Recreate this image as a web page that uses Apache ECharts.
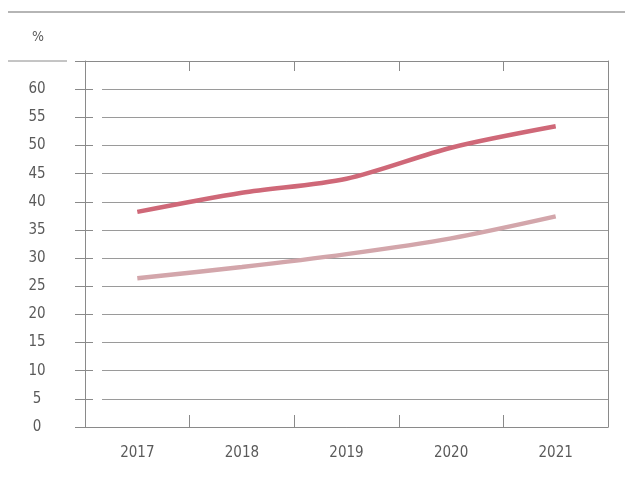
<!DOCTYPE html>
<html>
<head>
<meta charset="utf-8">
<style>
  html, body { margin: 0; padding: 0; background: #fff; }
  #chart { width: 625px; height: 498px; }
</style>
<script src="https://cdn.jsdelivr.net/npm/echarts@6/dist/echarts.min.js"></script>
</head>
<body>
<div id="chart"></div>
<script>
// Share (%) by year
const years = ['2017', '2018', '2019', '2020', '2021'];
const seriesUpper = [38.2, 41.6, 44.1, 49.6, 53.4];
const seriesLower = [26.4, 28.4, 30.7, 33.5, 37.4];
const yMax = 65;
const yStep = 5;

const FONT = '"Liberation Sans Narrow", "DejaVu Sans Condensed", sans-serif';
const LABEL_COLOR = '#5a5a5a';
const LINE_COLOR = '#8a8a8a';

const chart = echarts.init(document.getElementById('chart'), null, { renderer: 'canvas' });

chart.setOption({
  animation: false,
  backgroundColor: '#fff',
  grid: [
    { left: 85, right: 17, top: 61, bottom: 71 },
    // gridlines start a little right of the y axis
    { left: 102, right: 17, top: 61, bottom: 71 }
  ],
  graphic: [
    { type: 'line', shape: { x1: 8, y1: 12, x2: 625, y2: 12 }, style: { stroke: '#b5b5b5', lineWidth: 2 } },
    { type: 'line', shape: { x1: 8, y1: 61, x2: 67, y2: 61 }, style: { stroke: LINE_COLOR, lineWidth: 1 } },
    { type: 'text', left: 32, top: 30, style: { text: '%', font: '14px ' + FONT, fill: LABEL_COLOR } }
  ],
  xAxis: [
    {
      gridIndex: 0, type: 'category', data: years, position: 'bottom', boundaryGap: true,
      axisLine: { show: true, onZero: false, lineStyle: { color: LINE_COLOR, width: 1 } },
      axisTick: { show: true, inside: true, length: 12, lineStyle: { color: LINE_COLOR } },
      axisLabel: { color: LABEL_COLOR, fontFamily: FONT, fontSize: 15, margin: 19 },
      splitLine: { show: false }
    },
    {
      gridIndex: 0, type: 'category', data: years, position: 'top', boundaryGap: true,
      axisLine: { show: true, onZero: false, lineStyle: { color: LINE_COLOR, width: 1 } },
      axisTick: { show: true, inside: true, length: 10, lineStyle: { color: LINE_COLOR } },
      axisLabel: { show: false },
      splitLine: { show: false }
    },
    {
      gridIndex: 1, type: 'category', data: years, show: false
    }
  ],
  yAxis: [
    {
      gridIndex: 0, type: 'value', min: 0, max: yMax, interval: yStep, position: 'left',
      axisLine: { show: true, onZero: false, lineStyle: { color: LINE_COLOR, width: 1 } },
      axisTick: { show: true, inside: false, length: 10, lineStyle: { color: LINE_COLOR } },
      axisLabel: {
        color: LABEL_COLOR, fontFamily: FONT, fontSize: 15, margin: 48, align: 'center',
        formatter: v => (v >= yMax ? '' : String(v))
      },
      splitLine: { show: false }
    },
    {
      // short inner half of the crossing ticks
      gridIndex: 0, type: 'value', min: 0, max: yMax, interval: yStep, position: 'left',
      axisLine: { show: false, onZero: false },
      axisTick: { show: true, inside: true, length: 8, lineStyle: { color: LINE_COLOR } },
      axisLabel: { show: false },
      splitLine: { show: false }
    },
    {
      gridIndex: 0, type: 'value', min: 0, max: yMax, interval: yStep, position: 'right',
      axisLine: { show: true, onZero: false, lineStyle: { color: LINE_COLOR, width: 1 } },
      axisTick: { show: false },
      axisLabel: { show: false },
      splitLine: { show: false }
    },
    {
      gridIndex: 1, type: 'value', min: 0, max: yMax, interval: yStep,
      axisLine: { show: false }, axisTick: { show: false }, axisLabel: { show: false },
      splitLine: { show: true, lineStyle: { color: '#9a9a9a', width: 1 } }
    }
  ],
  series: [
    {
      type: 'line', xAxisIndex: 0, yAxisIndex: 0, data: seriesLower,
      smooth: 0.3, symbol: 'none',
      lineStyle: { color: '#d3a6ab', width: 4.5 }
    },
    {
      type: 'line', xAxisIndex: 0, yAxisIndex: 0, data: seriesUpper,
      smooth: 0.3, symbol: 'none',
      lineStyle: { color: '#cf6878', width: 4.5 }
    }
  ]
});
</script>
</body>
</html>
